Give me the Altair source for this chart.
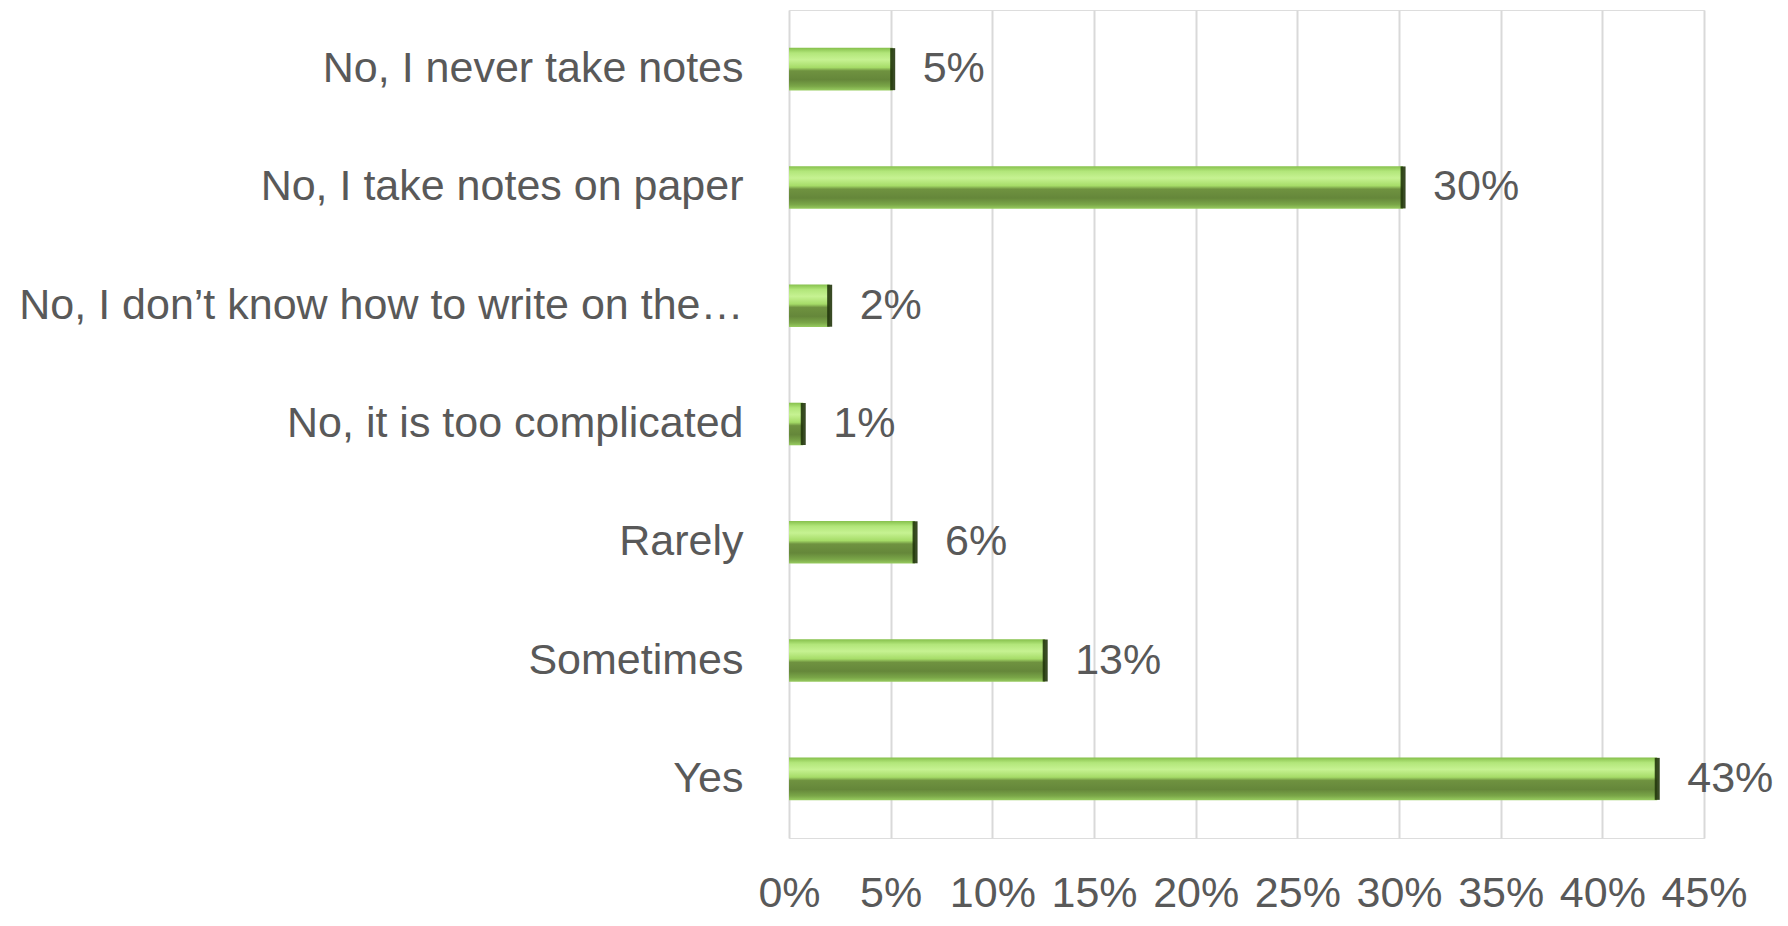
import altair as alt
import pandas as pd

categories = [
    "No, I never take notes",
    "No, I take notes on paper",
    "No, I don\u2019t know how to write on the\u2026",
    "No, it is too complicated",
    "Rarely",
    "Sometimes",
    "Yes",
]
values = [0.051, 0.302, 0.020, 0.007, 0.062, 0.126, 0.427]
x_ticks = [0.0, 0.05, 0.10, 0.15, 0.20, 0.25, 0.30, 0.35, 0.40, 0.45]

df = pd.DataFrame({"category": categories, "value": values})

FONT = "Liberation Sans"
TXT = "#595959"

bar_gradient = alt.Gradient(
    gradient="linear",
    x1=0, x2=0, y1=0, y2=1,
    stops=[
        alt.GradientStop(color="#86c04c", offset=0.0),
        alt.GradientStop(color="#b2e67a", offset=0.12),
        alt.GradientStop(color="#c6f292", offset=0.28),
        alt.GradientStop(color="#a6dc68", offset=0.46),
        alt.GradientStop(color="#6f9240", offset=0.54),
        alt.GradientStop(color="#65873a", offset=0.75),
        alt.GradientStop(color="#7aa648", offset=0.9),
        alt.GradientStop(color="#98cc60", offset=1.0),
    ],
)

y_enc = alt.Y(
    "category:N",
    sort=categories,
    title=None,
    scale=alt.Scale(paddingInner=0.64, paddingOuter=0.32),
    axis=alt.Axis(
        domain=False,
        ticks=False,
        labelFont=FONT,
        labelFontSize=43,
        labelColor=TXT,
        labelPadding=46,
        labelLimit=1000,
    ),
)

x_enc = alt.X(
    "value:Q",
    title=None,
    scale=alt.Scale(domain=[0, 0.45], nice=False),
    axis=alt.Axis(
        values=x_ticks,
        format=".0%",
        domain=False,
        ticks=False,
        grid=True,
        gridColor="#d9d9d9",
        gridWidth=2,
        labelFont=FONT,
        labelFontSize=43,
        labelColor=TXT,
        labelPadding=34,
        labelFlush=False,
    ),
)

base = alt.Chart(df)

bars = base.mark_bar(color=bar_gradient).encode(x=x_enc, y=y_enc)

caps = base.mark_tick(
    orient="vertical", thickness=5, size=42, color="#22360c", opacity=0.9
).encode(x="value:Q", y=alt.Y("category:N", sort=categories))

labels = base.mark_text(
    align="left", baseline="middle", dx=30, font=FONT, fontSize=43, color=TXT
).encode(
    x="value:Q",
    y=alt.Y("category:N", sort=categories),
    text=alt.Text("value:Q", format=".0%"),
)

chart = (
    alt.layer(bars, caps, labels)
    .properties(
        width=915,
        height=828,
        padding={"left": 10, "top": 2, "right": 5, "bottom": 5},
    )
    .configure_view(stroke=None)
    .configure(background="white")
)

chart.save("out.html", embed_options={"renderer": "svg", "actions": False})
